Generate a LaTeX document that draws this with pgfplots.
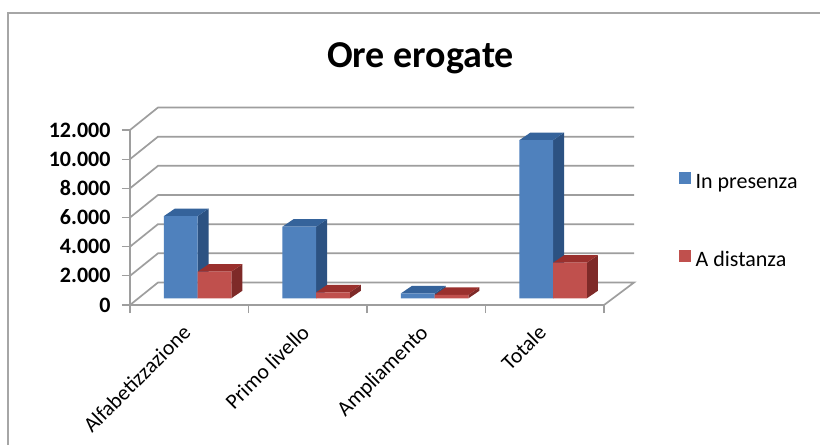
\documentclass[border=0pt]{standalone}
\usepackage{pgfplots}
\pgfplotsset{compat=1.18}
\usepackage{fontspec}
\setmainfont{Carlito}

\definecolor{griglia}{HTML}{9E9E9E}
\definecolor{blu}{HTML}{4F81BD}
\definecolor{blutop}{HTML}{35639B}
\definecolor{bluside}{HTML}{2C5282}
\definecolor{rosso}{HTML}{C0504D}
\definecolor{rossotop}{HTML}{9A302D}
\definecolor{rossoside}{HTML}{7E2A28}

% side and top face of a bar: x of right front edge, x of left front edge, value, colours
\newcommand{\facce}[5]{%
  \pgfmathsetmacro{\xb}{#1+0.0928}
  \pgfmathsetmacro{\xc}{#2+0.0928}
  \pgfmathsetmacro{\yb}{#3+514}
  \addplot[forget plot,fill=#4,draw=none,xshift=8.4pt,yshift=6.7pt] coordinates {(#1,0) (\xb,514) (\xb,\yb) (#1,#3)} --cycle;
  \addplot[forget plot,fill=#5,draw=none,xshift=8.4pt,yshift=6.7pt] coordinates {(#2,#3) (#1,#3) (\xb,\yb) (\xc,\yb)} --cycle;
}

\begin{document}
\begin{tikzpicture}[x=1pt,y=1pt]
% the axis sits at the origin: 130 px from the left, 305 px from the top
\useasboundingbox (-130,305) rectangle (690,-140);
\fill[white] (-130,305) rectangle (690,-140);
\draw[gray!70,line width=1.5pt] (-122,-140) -- (-122,292) -- (690,292);
\begin{axis}[
  scale only axis, width=474pt, height=175pt,
  xmin=0, xmax=4, ymin=0, ymax=12000,
  clip=false,
  axis lines=left,
  axis line style={-,griglia,line width=1.7pt},
  tick style={griglia,line width=1.3pt},
  tick align=outside, major tick length=8pt,
  xtick={0,1,2,3,4}, xticklabels={},
  extra x ticks={0.5,1.5,2.5,3.5},
  extra x tick labels={Alfabetizzazione,Primo livello,Ampliamento,Totale},
  extra x tick style={major tick length=0pt},
  xticklabel style={rotate=45,anchor=north east,font=\fontsize{21.5}{21.5}\selectfont,xshift=-15pt,yshift=-4pt},
  ytick={0,2000,4000,6000,8000,10000,12000},
  scaled y ticks=false,
  yticklabel style={font=\fontsize{22}{22}\selectfont\bfseries,xshift=-8pt},
  /pgf/number format/.cd, 1000 sep={.}, assume math mode=true, /pgfplots/.cd,
  title={Ore erogate},
  title style={font=\fontsize{38}{38}\selectfont\bfseries,at={(0.613,1.375)},anchor=center},
  legend style={at={(1.157,0.76)},anchor=north west,draw=none,fill=none,
    font=\fontsize{22}{22}\selectfont,row sep=57pt,inner sep=0pt},
  legend cell align=left,
  legend image code/.code={\fill[#1] (0pt,-9pt) rectangle (12pt,3pt); \path (15pt,0pt);},
]
% pareti e griglia
\addplot[forget plot,griglia,line width=1.7pt] coordinates {(0,0) (0.2363,1543) (4.2532,1543) (4,0)};
\addplot[forget plot,griglia,line width=1.7pt] coordinates {(0,2000) (0.2363,3543) (4.2532,3543)};
\addplot[forget plot,griglia,line width=1.7pt] coordinates {(0,4000) (0.2363,5543) (4.2532,5543)};
\addplot[forget plot,griglia,line width=1.7pt] coordinates {(0,6000) (0.2363,7543) (4.2532,7543)};
\addplot[forget plot,griglia,line width=1.7pt] coordinates {(0,8000) (0.2363,9543) (4.2532,9543)};
\addplot[forget plot,griglia,line width=1.7pt] coordinates {(0,10000) (0.2363,11543) (4.2532,11543)};
\addplot[forget plot,griglia,line width=1.7pt] coordinates {(0,12000) (0.2363,13543) (4.2532,13543)};

% In presenza
\facce{0.5}{0.2157}{5640}{bluside}{blutop}
\facce{1.5}{1.2157}{4910}{bluside}{blutop}
\facce{2.5}{2.2157}{340}{bluside}{blutop}
\facce{3.5}{3.2157}{10850}{bluside}{blutop}
\addplot[ybar,bar width=33.7pt,bar shift=-16.85pt,fill=blu,draw=none,xshift=8.4pt,yshift=6.7pt]
  coordinates {(0.5,5640) (1.5,4910) (2.5,340) (3.5,10850)};
\addlegendentry{In presenza}

% A distanza
\facce{0.7843}{0.5}{1825}{rossoside}{rossotop}
\facce{1.7843}{1.5}{410}{rossoside}{rossotop}
\facce{2.7843}{2.5}{230}{rossoside}{rossotop}
\facce{3.7843}{3.5}{2440}{rossoside}{rossotop}
\addplot[ybar,bar width=33.7pt,bar shift=16.85pt,fill=rosso,draw=none,xshift=8.4pt,yshift=6.7pt]
  coordinates {(0.5,1825) (1.5,410) (2.5,230) (3.5,2440)};
\addlegendentry{A distanza}
\end{axis}
\end{tikzpicture}
\end{document}
